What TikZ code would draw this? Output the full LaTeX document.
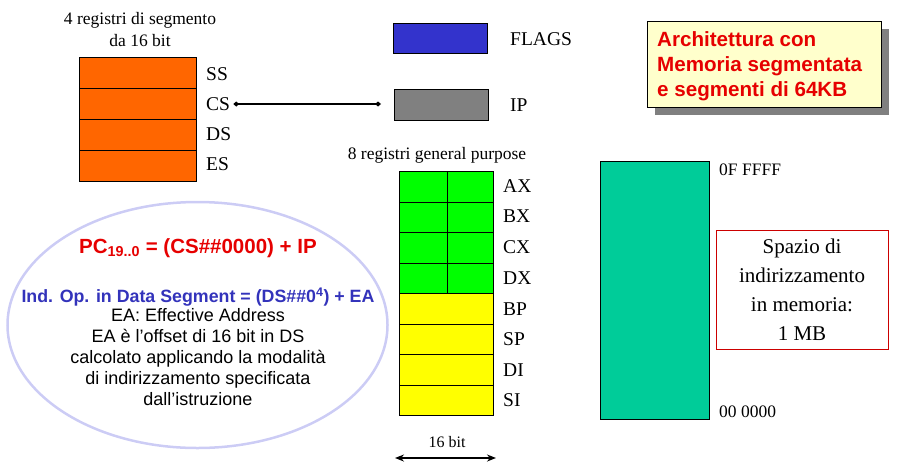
\documentclass[tikz,border=0pt]{standalone}
\usepackage{fontspec}
\setmainfont{Liberation Serif}
\setsansfont{Liberation Sans}
\usetikzlibrary{arrows.meta,shapes.geometric,shadows}
\definecolor{regorange}{RGB}{255,102,0}
\definecolor{flagblue}{RGB}{51,51,204}
\definecolor{ipgray}{RGB}{128,128,128}
\definecolor{gpgreen}{RGB}{0,255,0}
\definecolor{gpyellow}{RGB}{255,255,0}
\definecolor{memgreen}{RGB}{0,204,153}
\definecolor{notebg}{RGB}{255,255,204}
\definecolor{txtred}{RGB}{230,0,0}
\definecolor{txtblue}{RGB}{51,51,187}
\definecolor{ellcol}{RGB}{204,204,245}
\definecolor{boxred}{RGB}{204,0,0}
\begin{document}
\begin{tikzpicture}[x=1pt,y=-1pt,
  reg/.style={draw=black,line width=0.8pt,inner sep=0pt,anchor=north west},
  lbl/.style={anchor=west,inner sep=0pt,font=\fontsize{19.5}{22}\selectfont},
  captxt/.style={inner sep=0pt,font=\fontsize{17.5}{22}\selectfont,align=center},
  addr/.style={anchor=west,inner sep=0pt,font=\fontsize{17.5}{20}\selectfont},
  sanstxt/.style={inner sep=0pt,font=\sffamily\fontsize{18}{21}\selectfont,align=center}]
\useasboundingbox (0,0) rectangle (901,464);

% segment registers
\node[captxt] (segtitle) at (140,30) {4 registri di segmento\\da 16 bit};
\foreach \n/\y in {ss/57,cs/88,ds/119,es/150}{
  \node[reg,fill=regorange,minimum width=117pt,minimum height=31pt] (\n) at (79,\y) {};
}
\node[lbl] (ssl) at (206,74) {SS};
\node[lbl] (csl) at (206,104) {CS};
\node[lbl] (dsl) at (206,134) {DS};
\node[lbl] (esl) at (206,164) {ES};

% flags and ip
\node[reg,fill=flagblue,minimum width=94pt,minimum height=30pt] (flags) at (393,23) {};
\node[reg,fill=ipgray,minimum width=94pt,minimum height=31pt] (ip) at (394,89) {};
\node[lbl] (flagsl) at (510,39) {FLAGS};
\node[lbl] (ipl) at (510,105) {IP};
\draw[line width=1.5pt,{Diamond[length=6pt,width=5pt]}-{Diamond[length=6pt,width=5pt]},shorten <=3pt,shorten >=13pt] (csl.east) -- (ip.west |- csl.east);

% general purpose registers
\node[captxt] (gptitle) at (437,155) {8 registri general purpose};
\foreach \n/\y in {ax/171,bx/201.5,cx/232,dx/262.5}{
  \node[reg,fill=gpgreen,minimum width=48pt,minimum height=30.5pt] (\n h) at (399,\y) {};
  \node[reg,fill=gpgreen,minimum width=46pt,minimum height=30.5pt] (\n l) at (447,\y) {};
}
\foreach \n/\y in {bp/293,sp/323.5,di/354,si/384.5}{
  \node[reg,fill=gpyellow,minimum width=94pt,minimum height=30.5pt] (\n) at (399,\y) {};
}
\foreach \n/\t/\y in {axl/AX/186,bxl/BX/216,cxl/CX/247,dxl/DX/278,bpl/BP/309,spl/SP/339,dil/DI/370,sil/SI/400}{
  \node[lbl] (\n) at (503,\y) {\t};
}
\node[captxt,font=\fontsize{16}{20}\selectfont] (bits) at (447,442) {16 bit};
\coordinate (wl) at (395,458);
\coordinate (wr) at (496,458);
\draw[line width=1.5pt,{Stealth[length=9pt,width=7pt]}-{Stealth[length=9pt,width=7pt]}] (wl) -- (wr);

% memory
\node[reg,fill=memgreen,minimum width=109pt,minimum height=258pt] (mem) at (600,161) {};
\node[addr] (top) at (719,170) {0F FFFF};
\node[addr] (bot) at (719,412) {00 0000};
\node[draw=boxred,line width=0.8pt,minimum width=172pt,minimum height=119pt,inner sep=0pt,align=center,font=\fontsize{21}{29}\selectfont] (space) at (802,289.5) {Spazio di\\indirizzamento\\in memoria:\\1 MB};

% note box
\node[draw=black,line width=1pt,fill=notebg,anchor=north west,minimum width=234pt,minimum height=86pt,inner sep=0pt,
  drop shadow={shadow xshift=7pt,shadow yshift=-7pt,fill=ipgray,opacity=1}] (note) at (647,21) {};
\node[anchor=west,inner sep=0pt,align=left,text=txtred,font=\sffamily\bfseries\fontsize{20.6}{25}\selectfont] (notetxt) at (657,66) {Architettura con\\Memoria segmentata\\e segmenti di 64KB};

% ellipse with formulas
\node[ellipse,draw=ellcol,line width=2.5pt,minimum width=380pt,minimum height=246pt,inner sep=0pt] (ell) at (197.5,325) {};
\node[sanstxt,text=txtred,font=\sffamily\bfseries\fontsize{20.5}{24}\selectfont] (pc) at (198,248) {PC\textsubscript{19..0} = (CS\#\#0000) + IP};
\node[sanstxt,text=txtblue,font=\sffamily\bfseries\fontsize{17.8}{21}\selectfont] (ind) at (198,297) {Ind. Op. in Data Segment = (DS\#\#0\textsuperscript{4}) + EA};
\node[sanstxt,anchor=north] (ea) at (198,308) {EA: Effective Address\\EA è l’offset di 16 bit in DS\\calcolato applicando la modalità\\di indirizzamento specificata\\dall’istruzione};
\end{tikzpicture}
\end{document}
